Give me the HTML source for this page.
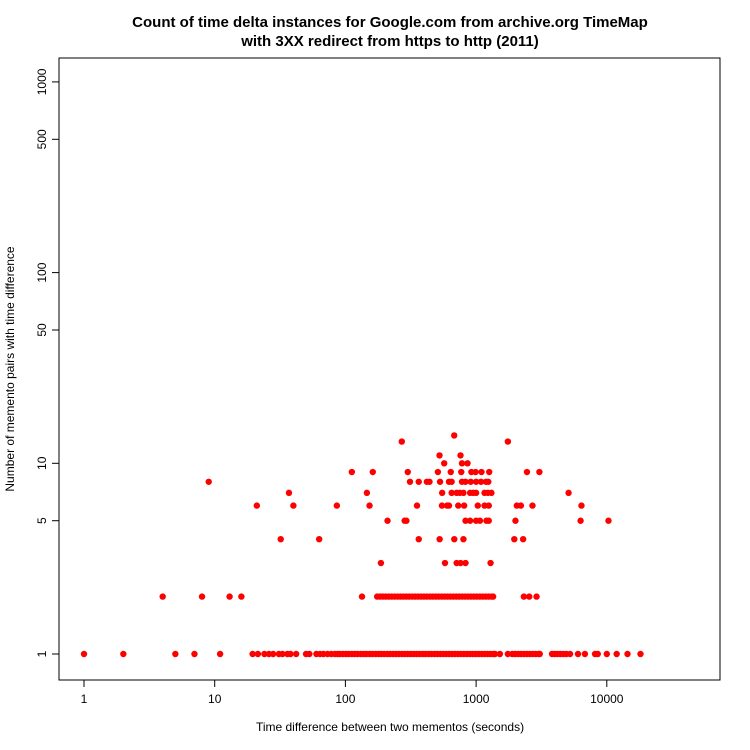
<!DOCTYPE html>
<html><head><meta charset="utf-8"><style>
body{margin:0;background:#fff}
svg{display:block;font-family:"Liberation Sans",Arial,sans-serif}
</style></head><body>
<svg id="chart" width="750" height="750" viewBox="0 0 750 750">
<text x="390" y="27" text-anchor="middle" font-size="15" font-weight="bold">Count of time delta instances for Google.com from archive.org TimeMap</text>
<text x="390" y="46" text-anchor="middle" font-size="15" font-weight="bold">with 3XX redirect from https to http (2011)</text>
<rect x="59" y="58" width="661" height="622" fill="none" stroke="#000" stroke-width="1"/>
<g id="xaxis"></g>
<g id="yaxis"></g>
<g id="points"></g>
<text x="390" y="731" text-anchor="middle" font-size="12">Time difference between two mementos (seconds)</text>
<text transform="translate(14,369) rotate(-90)" text-anchor="middle" font-size="12">Number of memento pairs with time difference</text>
</svg>
<script>
const xTicks=[1,10,100,1000,10000];
const xTickLabels=["1","10","100","1000","10000"];
const yTicks=[1,5,10,50,100,500,1000];
const yTickLabels=["1","5","10","50","100","500","1000"];
const count1=[1,2,5,7,11,19.5,21.4,24,26,28,31,33,36,38,42,50,53,60,64,68,73,78,83,87,91,96,101,106,112,118,124,131,138,145,153,161,170,179,188,198,209,220,232,244,257,271,285,300,316,333,351,370,390,410,432,455,480,505,532,560,590,622,655,690,727,766,807,850,895,943,993,1046,1102,1161,1223,1288,1357,1396,1520,1750,1890,1990,2100,2210,2330,2450,2580,2720,2860,3010,3070,3810,4000,4200,4420,4650,4900,5230,6020,6800,8130,8530,10000,11900,14400,18100];
const count2=[4,8,13,16,134,175,184,194,204,215,226,238,251,264,278,293,308,325,342,360,379,399,420,443,466,491,517,545,574,604,636,670,706,743,783,824,868,914,963,1014,1068,1125,1185,1248,1315,1350,2320,2550,2900];
const count3=[187,578,710,760,830,1290];
const count4=[32,63,364,526,681,800,1960,2290];
const count5=[210,284,293,830,900,1000,1070,1200,1250,2000,6300,10300];
const count6=[21,40,86,153,353,548,600,620,730,810,1030,1160,1250,2050,2200,2700,6400];
const count7=[37,146,550,650,710,750,800,900,950,1000,1160,1230,1310,5100];
const count8=[9,312,364,420,440,530,620,650,780,830,910,1000,1090,1190,1240];
const count9=[112,162,300,510,640,770,920,990,1100,1260,2450,3050];
const count10=[570,780,860];
const count11=[525,760];
const count13=[270,1750];
const count14=[680];
const series=[[1,count1],[2,count2],[3,count3],[4,count4],[5,count5],[6,count6],[7,count7],[8,count8],[9,count9],[10,count10],[11,count11],[13,count13],[14,count14]];
const NS="http://www.w3.org/2000/svg";
function xs(v){return 84+130.7*Math.log10(v);}
function ys(v){return 654-190.7*Math.log10(v);}
const xa=document.getElementById('xaxis'),ya=document.getElementById('yaxis'),pg=document.getElementById('points');
function mk(t,a){const e=document.createElementNS(NS,t);for(const k in a)e.setAttribute(k,a[k]);return e;}
xTicks.forEach((t,i)=>{
  const l=mk('line',{x1:xs(t),x2:xs(t),y1:680,y2:687,stroke:'#000'});
  
  
  xa.appendChild(l);
  const tx=mk('text',{x:xs(t),y:703,'text-anchor':'middle','font-size':12});
  
  
  tx.textContent=xTickLabels[i];xa.appendChild(tx);
});
yTicks.forEach((t,i)=>{
  const l=mk('line',{x1:52,x2:59,y1:ys(t),y2:ys(t),stroke:'#000'});
  
  
  ya.appendChild(l);
  const tx=mk('text',{transform:`translate(46,${ys(t)}) rotate(-90)`,'text-anchor':'middle','font-size':12});
  
  
  tx.textContent=yTickLabels[i];ya.appendChild(tx);
});
series.forEach(([c,arr])=>{arr.forEach(v=>{
  const p=mk('circle',{cx:xs(v),cy:ys(c),r:3.2,fill:'#ff0000'});
  
  
  pg.appendChild(p);
});});
</script>
</body></html>
